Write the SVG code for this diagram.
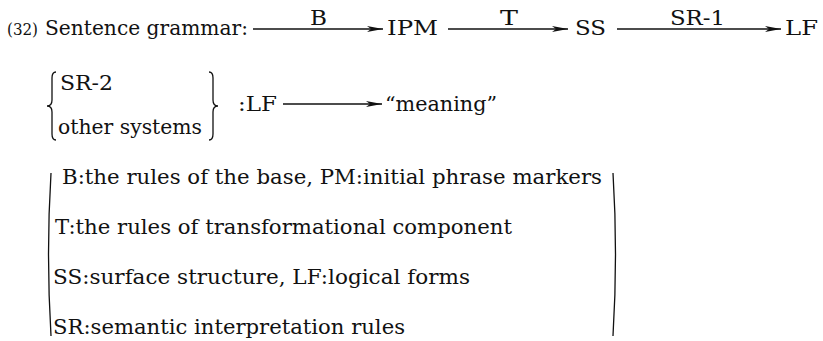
<svg xmlns="http://www.w3.org/2000/svg" width="823" height="341" viewBox="0 0 823 341">
<defs>
<style>
text{font-family:'DejaVu Serif','Liberation Serif',serif;font-size:21px;fill:#111;}
.small{font-size:16px;}
.conn line{stroke:#111;stroke-width:1.4;}
.brk{fill:none;stroke:#111;stroke-width:1.3;}
</style>
<marker id="ah" markerUnits="userSpaceOnUse" markerWidth="16" markerHeight="8" refX="16" refY="4" orient="auto">
<path d="M0,1 L16,4 L0,7 L4,4 z" fill="#111"/>
</marker>
</defs>
<rect width="823" height="341" fill="#fff"/>
<g id="num"><text class="small" x="7" y="35" textLength="31" lengthAdjust="spacingAndGlyphs">(32)</text></g>
<g id="title"><text x="45" y="35" textLength="203" lengthAdjust="spacingAndGlyphs">Sentence grammar:</text></g>
<g id="IPM"><text x="387" y="35" textLength="51" lengthAdjust="spacingAndGlyphs">IPM</text></g>
<g id="SS"><text x="575" y="35" textLength="31" lengthAdjust="spacingAndGlyphs">SS</text></g>
<g id="LF1"><text x="785" y="35" textLength="33" lengthAdjust="spacingAndGlyphs">LF</text></g>

<g id="lblB"><text x="310" y="25" textLength="17" lengthAdjust="spacingAndGlyphs">B</text></g>
<g id="lblT"><text x="500" y="25" textLength="18" lengthAdjust="spacingAndGlyphs">T</text></g>
<g id="lblSR1"><text x="670" y="25" textLength="55" lengthAdjust="spacingAndGlyphs">SR-1</text></g>

<g id="choice">
<path class="brk" d="M56,72 Q52,72 52,78 L52,100 Q52,106 47,106 Q52,106 52,112 L52,134 Q52,140 56,140"/>
<text x="60" y="90" textLength="53" lengthAdjust="spacingAndGlyphs">SR-2</text>
<text x="58" y="134" textLength="144" lengthAdjust="spacingAndGlyphs">other systems</text>
<path class="brk" d="M209,72 Q213,72 213,78 L213,100 Q213,106 218,106 Q213,106 213,112 L213,134 Q213,140 209,140"/>
</g>
<g id="LF2"><text x="238" y="111" textLength="39" lengthAdjust="spacingAndGlyphs">:LF</text></g>
<g id="meaning"><text x="385" y="111" textLength="112" lengthAdjust="spacingAndGlyphs">“meaning”</text></g>

<g id="legend">
<path class="brk" d="M51,173 Q46,254 51,336"/>
<text x="62" y="184" textLength="540" lengthAdjust="spacingAndGlyphs">B:the rules of the base, PM:initial phrase markers</text>
<text x="55" y="234" textLength="457" lengthAdjust="spacingAndGlyphs">T:the rules of transformational component</text>
<text x="53" y="284" textLength="417" lengthAdjust="spacingAndGlyphs">SS:surface structure, LF:logical forms</text>
<text x="53" y="334" textLength="352" lengthAdjust="spacingAndGlyphs">SR:semantic interpretation rules</text>
<path class="brk" d="M613,173 Q618,254 613,336"/>
</g>
<g id="connectors" class="conn">
<line x1="253" y1="29" x2="383" y2="29" marker-end="url(#ah)"/>
<line x1="448" y1="29" x2="568" y2="29" marker-end="url(#ah)"/>
<line x1="617" y1="29" x2="781" y2="29" marker-end="url(#ah)"/>
<line x1="283" y1="104" x2="382" y2="104" marker-end="url(#ah)"/>
</g>
</svg>
